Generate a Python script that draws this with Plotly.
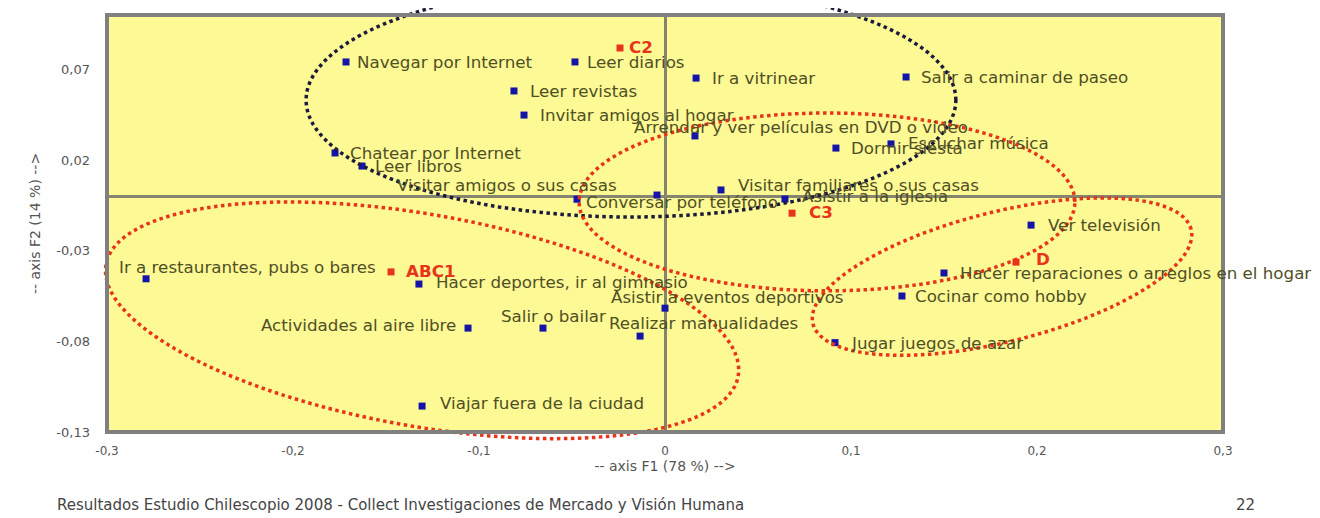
import math
import plotly.graph_objects as go

# ---------------- data ----------------
activities = [
    "Navegar por Internet", "Leer diarios", "Ir a vitrinear", "Salir a caminar de paseo",
    "Leer revistas", "Invitar amigos al hogar", "Arrendar y ver películas en DVD o video",
    "Escuchar música", "Dormir siesta", "Chatear por Internet", "Leer libros",
    "Visitar amigos o sus casas", "Conversar por teléfono", "Visitar familiares o sus casas",
    "Asistir a la iglesia", "Ver televisión", "Hacer reparaciones o arreglos en el hogar",
    "Cocinar como hobby", "Jugar juegos de azar", "Ir a restaurantes, pubs o bares",
    "Hacer deportes, ir al gimnasio", "Actividades al aire libre", "Salir o bailar",
    "Realizar manualidades", "Asistir a eventos deportivos", "Viajar fuera de la ciudad",
]
act_f1 = [-0.1715, -0.0484, 0.0167, 0.1296, -0.0812, -0.0758, 0.0161, 0.1215, 0.0919,
          -0.1774, -0.1629, -0.0043, -0.0473, 0.0301, 0.0645, 0.1968, 0.1500, 0.1274,
          0.0914, -0.2790, -0.1323, -0.1059, -0.0656, -0.0134, 0.0000, -0.1306]
act_f2 = [0.0741, 0.0741, 0.0652, 0.0658, 0.0581, 0.0448, 0.0333, 0.0289, 0.0266,
          0.0239, 0.0167, 0.0007, -0.0016, 0.0035, -0.0015, -0.0159, -0.0423, -0.0550,
          -0.0807, -0.0455, -0.0484, -0.0727, -0.0727, -0.0771, -0.0617, -0.1157]

groups = ["C2", "C3", "D", "ABC1"]
grp_f1 = [-0.0242, 0.0683, 0.1887, -0.1473]
grp_f2 = [0.0818, -0.0093, -0.0363, -0.0417]

x_ticks = [-0.3, -0.2, -0.1, 0, 0.1, 0.2, 0.3]
x_ticktext = ["-0,3", "-0,2", "-0,1", "0", "0,1", "0,2", "0,3"]
y_ticks = [-0.13, -0.08, -0.03, 0.02, 0.07]
y_ticktext = ["-0,13", "-0,08", "-0,03", "0,02", "0,07"]

# ---------------- styling ----------------
X_RANGE = [-0.3, 0.3]
Y_RANGE = [-0.13, 0.1]
# page body has an 8px margin: figure 1312x510 fills the 1320x518 window
W, H = 1312, 510
M = dict(l=99, r=97, t=7, b=86)
PW = W - M["l"] - M["r"]
PH = H - M["t"] - M["b"]

FONT = "DejaVu Sans"
TXT = "#4f4f26"
RED = "#e8341a"
BLUE = "#1414a8"
LBL = 16.7

# label offsets (pixels) : (dx, dy, anchor)
act_lab = [(9, 0, "left"), (10, 0, "left"), (14, 0, "left"), (13, 0, "left"),
           (14, 0, "left"), (14, 0, "left"), (-63, 9, "left"), (15, 1, "left"),
           (13, 0, "left"), (13, 0, "left"), (11, 0, "left"), (-38, 10, "right"),
           (7, -3, "left"), (15, 5, "left"), (15, 3, "left"), (15, 0, "left"),
           (14, 0, "left"), (11, 0, "left"), (14, 0, "left"), (-29, 12, "left"),
           (15, 2, "left"), (-10, 3, "right"), (-44, 12, "left"), (-33, 13, "left"),
           (-56, 11, "left"), (16, 3, "left")]
grp_lab = [(7, 1), (15, 1), (18, 3), (13, 1)]

# ellipses: centre (data), semi-axes in x-data units, angle (deg), colour
ellipses = [
    dict(cx=-0.0183, cy=0.0531, a=0.1747, b=0.0629, ang=0, color="#1b1b3c"),
    dict(cx=0.0871, cy=-0.0031, a=0.1333, b=0.0478, ang=0, color=RED),
    dict(cx=0.1812, cy=-0.0443, a=0.1048, b=0.0349, ang=14, color=RED),
    dict(cx=-0.1306, cy=-0.0684, a=0.1726, b=0.0570, ang=-10, color=RED),
]

sx = PW / (X_RANGE[1] - X_RANGE[0])  # px per x unit
sy = PH / (Y_RANGE[1] - Y_RANGE[0])  # px per y unit


def ellipse_path(e, n=120):
    cxp = (e["cx"] - X_RANGE[0]) * sx
    cyp = (e["cy"] - Y_RANGE[0]) * sy
    a, b = e["a"] * sx, e["b"] * sx
    th = math.radians(e["ang"])
    pts = []
    for i in range(n + 1):
        t = 2 * math.pi * i / n
        u, v = a * math.cos(t), b * math.sin(t)
        px = cxp + u * math.cos(th) - v * math.sin(th)
        py = cyp + u * math.sin(th) + v * math.cos(th)
        pts.append((px / PW, py / PH))
    return "M " + " L ".join(f"{p[0]:.5f},{p[1]:.5f}" for p in pts) + " Z"


fig = go.Figure()
fig.add_trace(go.Scatter(x=act_f1, y=act_f2, mode="markers",
                         marker=dict(symbol="square", size=7, color=BLUE),
                         hovertext=activities, showlegend=False, cliponaxis=False))
fig.add_trace(go.Scatter(x=grp_f1, y=grp_f2, mode="markers",
                         marker=dict(symbol="square", size=7, color=RED),
                         hovertext=groups, showlegend=False, cliponaxis=False))

annotations = []
for name, x, y, (dx, dy, anc) in zip(activities, act_f1, act_f2, act_lab):
    annotations.append(dict(x=x, y=y, xref="x", yref="y", text=name, showarrow=False,
                            xanchor=anc, yanchor="middle", xshift=dx, yshift=dy,
                            font=dict(family=FONT, size=LBL, color=TXT)))
for name, x, y, (dx, dy) in zip(groups, grp_f1, grp_f2, grp_lab):
    annotations.append(dict(x=x, y=y, xref="x", yref="y", text="<b>" + name + "</b>",
                            showarrow=False, xanchor="left", yanchor="middle",
                            xshift=dx, yshift=dy,
                            font=dict(family=FONT, size=LBL, color=RED)))

annotations.append(dict(x=0, y=0, xref="paper", yref="paper",
                        text="Resultados Estudio Chilescopio 2008 - Collect Investigaciones de Mercado y Visión Humana",
                        showarrow=False, xanchor="left", yanchor="middle",
                        xshift=-52, yshift=-73,
                        font=dict(family=FONT, size=15, color="#444444")))
annotations.append(dict(x=1, y=0, xref="paper", yref="paper", text="22",
                        showarrow=False, xanchor="center", yanchor="middle",
                        xshift=22, yshift=-73,
                        font=dict(family=FONT, size=15, color="#444444")))

shapes = []
for e in ellipses:
    shapes.append(dict(type="path", xref="paper", yref="paper", path=ellipse_path(e),
                       line=dict(color=e["color"], width=3.5, dash="dot"), layer="above"))
shapes.append(dict(type="rect", xref="paper", yref="paper", x0=0, y0=0, x1=1, y1=1,
                   line=dict(color="#808080", width=4), layer="above"))

fig.update_layout(
    width=W, height=H, margin=M,
    plot_bgcolor="#fdf994", paper_bgcolor="white",
    font=dict(family=FONT, color="#555555"),
    annotations=annotations, shapes=shapes, showlegend=False,
    xaxis=dict(range=X_RANGE, tickvals=x_ticks, ticktext=x_ticktext, showgrid=False,
               zeroline=True, zerolinecolor="#85856f", zerolinewidth=3, showline=False,
               ticks="", ticklabelstandoff=10, tickfont=dict(size=12, color="#555555"),
               title=dict(text="-- axis F1 (78 %) -->", font=dict(size=14, color="#555555"),
                          standoff=4)),
    yaxis=dict(range=Y_RANGE, tickvals=y_ticks, ticktext=y_ticktext, showgrid=False,
               zeroline=True, zerolinecolor="#85856f", zerolinewidth=3, showline=False,
               ticks="", ticklabelstandoff=16, tickfont=dict(size=13, color="#555555"),
               title=dict(text="-- axis F2 (14 %) -->", font=dict(size=14, color="#555555"),
                          standoff=12)),
)

fig.write_html("out.html")
